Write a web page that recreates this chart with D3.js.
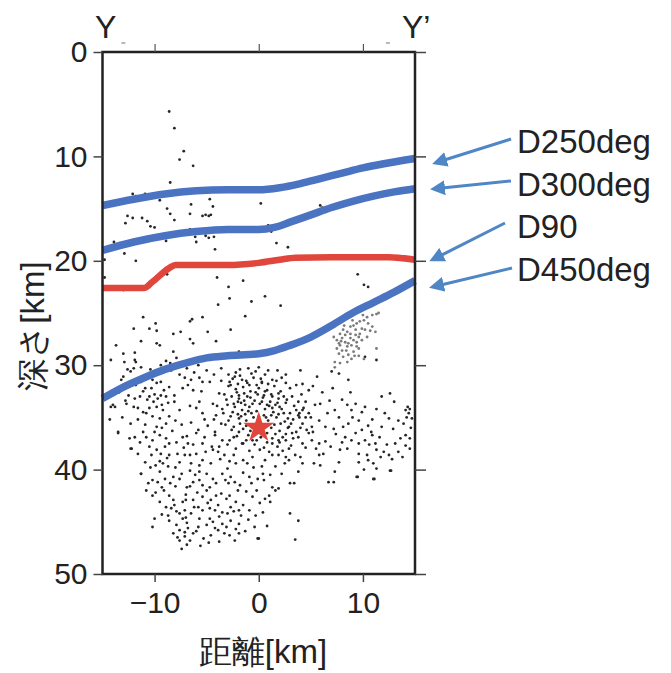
<!DOCTYPE html>
<html><head><meta charset="utf-8">
<script src="https://cdn.jsdelivr.net/npm/d3@7"></script>
<style>body{margin:0;background:#fff}svg{display:block}text{font-family:"Liberation Sans",Arial,sans-serif;fill:#222}</style>
</head><body>
<script>
const xTicks=[-10,0,10];
const yTicks=[0,10,20,30,40,50];
const lineD250=[[-15,14.7],[-12,14.1],[-9,13.6],[-6,13.3],[-3,13.2],[0,13.2],[2,13.0],[4,12.6],[6,12.1],[8,11.6],[10,11.1],[12,10.7],[15,10.2]];
const lineD300=[[-15,19.0],[-12,18.2],[-9,17.6],[-6,17.2],[-3,17.0],[0,17.0],[1.5,16.8],[3,16.3],[5,15.6],[7,14.9],[9,14.3],[11,13.8],[13,13.4],[15,13.1]];
const lineD90=[[-15,22.6],[-11,22.6],[-10.3,22.1],[-8.6,20.7],[-8,20.4],[-3,20.4],[0,20.2],[2,19.9],[3.5,19.7],[7,19.65],[12.5,19.65],[15,19.9]];
const lineD450=[[-15,33.2],[-13,32.1],[-11,31.2],[-9,30.4],[-7,29.8],[-5,29.3],[-3,29.1],[0,28.9],[1.5,28.6],[3,28.1],[5,27.3],[7,26.2],[9,25.0],[11,24.0],[13,23.0],[15,21.9]];
const labels=["D250deg","D300deg","D90","D450deg"];
const mainshock=[0,36];
const quakes=[
[-8.6,5.7],[-8.1,7.3],[-7.2,9.5],[-7.6,10.3],[-6.3,10.9],[-8.5,12.5],[-12.1,13.6],[-11.8,13.8],[-11.1,13.7],[-10.9,13.6],[-9.5,14.2],[-4.7,14.1],[-6.5,14.6],[-4.4,14.8],[-8.8,15.0],[-8.5,15.5],[-6.6,15.5],[-5.4,15.7],[-5.1,15.6],[-4.8,15.7],[-4.6,15.6],[-8.1,16.1],[-12.6,15.7],[-12.8,16.4],[-12.1,15.9],[-11.2,15.9],[-10.7,16.2],[-10.4,16.7],[-10.0,16.8],[0.2,14.5],[5.9,14.7],[6.1,14.9],
[-6.6,17.0],[-6.2,17.2],[-4.7,17.3],[-3.2,17.0],[-2.2,17.0],[-1.4,17.0],[0.9,16.6],[1.2,17.2],[-9.0,17.5],[-8.9,18.1],[-6.1,17.7],[-6.0,18.2],[-5.1,17.6],[-4.8,17.8],[-4.3,17.7],[-13.9,18.2],[-12.9,19.3],[-11.8,20.0],[-4.2,18.9],[1.7,18.3],[2.8,18.7],
[-6.2,20.5],[-0.9,20.3],[-8.8,21.3],[-13.0,22.8],[-14.8,19.9],[-14.8,21.6],[-4.0,21.6],[-2.9,22.5],[-1.5,21.9],[-2.8,23.6],[0.6,23.4],[9.5,21.3],[10.1,22.3],[10.5,22.5],
[-3.9,24.2],[-0.7,23.9],[-11.1,25.4],[-5.4,25.4],[-6.4,25.6],[-6.6,25.8],[-1.3,25.3],[-9.9,26.0],[-10.5,26.5],[-12.0,26.5],[-9.8,26.7],[-8.2,27.0],[-7.5,26.8],[-4.9,26.8],[-2.7,26.6],[-6.6,27.5],[-6.3,27.9],[-4.1,27.7],[-11.3,27.7],[-9.8,27.9],[-9.5,28.1],[-13.7,28.1],[-8.2,28.7],[-11.9,28.8],[-13.0,28.9],[-1.9,28.7],[-14.2,29.5],[-12.9,29.7],[-11.9,29.5],[-11.8,29.7],
[-9.4,30.0],[-8.5,29.8],[-8.1,30.1],[-7.6,30.0],[-7.1,29.7],[-8.4,30.5],[-9.0,30.6],[-10.0,30.9],[-10.8,31.2],[-11.3,31.6],[-11.8,31.9],[-12.3,30.6],[-12.6,30.4],[-13.2,31.4],[-13.0,31.1],[-10.6,31.0],[-11.6,31.3],[-12.1,31.8],
[-11.1,32.5],[-10.3,32.2],[-9.8,31.7],[-9.4,31.6],[-7.6,30.9],[-7.1,31.2],[-6.5,31.4],[-5.7,31.2],[-5.4,31.6],[-4.7,31.6],[-6.8,31.9],[-7.3,32.2],[-6.3,32.4],[-5.5,32.5],[-10.5,33.0],[-9.7,33.2],[-8.9,33.0],[-8.1,32.9],[-8.1,33.5],[-9.8,34.0],[-10.5,34.1],[-9.2,34.3],[-11.1,34.5],[-10.2,34.9],[-9.5,35.1],[-8.6,34.9],[-7.6,34.3],[-6.6,33.9],[-6.0,34.1],[-5.4,34.6],[-4.1,34.8],[-4.4,33.7],[-5.7,33.5],[-13.8,34.0],[-14.3,35.2],[-12.0,34.0],[-11.6,35.2],[-10.9,35.7],[-9.8,35.9],[-8.9,35.6],[-14.2,34.0],[-13.5,36.4],[-12.3,38.0],[-11.3,40.4],[-12.7,33.7],[-10.7,33.3],[-9.1,32.4],[-10.0,32.8],
[-2.5,31.3],[-1.8,31.0],[-1.2,31.5],[-0.5,31.2],[0.3,31.6],[-2.9,32.0],[-2.2,32.3],[-1.5,32.1],[-0.8,32.5],[0.0,32.2],[0.8,32.4],[1.5,32.0],[-3.3,32.8],[-2.6,33.0],[-1.9,33.2],[-1.1,33.0],[-0.4,33.4],[0.4,33.1],[1.1,33.5],[1.9,33.2],[2.6,33.6],[-3.0,33.8],[-2.3,34.0],[-1.6,34.3],[-0.9,34.0],[-0.2,34.4],[0.6,34.2],[1.4,34.5],[2.2,34.2],[3.0,34.6],[-2.7,34.9],[-1.9,35.1],[-1.2,35.3],[-0.5,35.0],[0.9,35.3],[1.7,35.0],[2.5,35.4],[3.3,35.2],[-3.2,35.7],[-2.4,35.9],[-1.5,36.1],[1.2,36.0],[2.0,36.3],[2.8,36.0],[3.6,36.4],[-2.1,36.8],[-1.0,36.7],[0.2,36.9],[1.3,37.0],[2.3,36.9],[-1.6,37.5],[-0.4,37.6],[0.8,37.4],[1.8,37.8],[-2.0,31.8],[-1.4,32.7],[-0.2,31.9],[0.5,32.9],[1.0,33.9],[-0.6,33.7],[-1.7,33.6],[-2.5,34.5],[2.9,35.9],[0.2,35.6],[-0.8,36.3],[0.5,34.8],[-1.3,34.7],[1.9,34.7],[2.4,33.0],[-3.5,34.2],[3.9,35.0],[4.2,35.6],[3.6,34.3],[4.5,35.0],[-0.3,30.6],[-1.0,30.3],[-2.2,30.7],[0.6,30.9],[-2.8,31.6],[-1.6,31.4],[-0.9,31.9],[-2.1,32.6],[-0.1,32.8],[-1.3,33.8],[-2.0,33.5],[-0.7,34.6],[0.1,33.7],[1.6,33.8],[-2.9,35.3],[-1.8,35.6],[0.4,36.3],[1.5,35.7],[-0.2,37.2],
[-6.5,35.5],[-5.8,36.2],[-4.9,35.8],[-4.2,36.4],[-3.6,35.6],[-6.9,36.8],[-5.2,35.2],[-4.5,37.8],[-3.9,38.3],
[-13.5,36.5],[-10.8,36.9],[-10.2,37.2],[-9.5,36.7],[-8.9,37.0],[-8.6,37.5],[-9.8,38.1],[-9.4,38.5],[-8.6,38.6],[-7.8,38.5],[-7.1,38.6],[-12.2,38.0],[-11.6,38.5],[-9.2,39.4],[-8.7,39.7],[-9.5,40.2],[-10.2,41.0],[-9.7,41.2],[-9.0,40.9],[-8.2,40.7],[-7.4,40.4],[-11.3,40.4],[-10.6,41.3],[-10.2,42.5],[-8.6,42.5],[-8.2,42.9],[-8.1,43.4],[-8.4,43.7],[-7.3,43.1],[-7.1,43.9],[-7.6,44.2],[-8.7,44.4],[-8.6,44.9],[-7.3,44.7],[-7.6,45.8],[-7.1,46.0],[-8.2,46.1],[-7.8,46.5],[-7.6,46.8],[-7.4,47.6],[-10.0,44.7],[-10.2,45.5],
[-6.5,39.4],[-6.6,40.1],[-6.3,41.2],[-6.9,41.7],[-5.7,39.6],[-5.4,39.1],[-5.0,40.4],[-5.7,41.0],[-5.4,41.5],[-5.0,42.0],[-4.7,41.7],[-5.4,42.6],[-4.6,42.9],[-4.1,42.5],[-3.9,43.4],[-4.7,43.7],[-5.4,43.9],[-6.3,42.9],[-5.8,43.6],[-6.5,44.2],[-5.7,44.7],[-5.0,45.3],[-5.8,45.5],[-6.3,46.1],[-6.6,46.8],
[-4.7,44.7],[-4.4,45.0],[-3.8,44.5],[-3.1,45.5],[-3.9,45.8],[-3.3,46.1],[-2.7,44.9],[-2.2,45.7],[-1.9,46.1],[-2.3,46.8],[-3.8,46.9],[-1.9,45.2],[-1.7,44.4],
[-4.4,38.1],[-3.8,37.8],[-3.3,38.6],[-2.8,39.2],[-2.2,39.4],[-1.5,39.1],[-1.1,39.4],[-0.6,38.8],[0.1,38.1],[-3.5,40.4],[-2.7,40.7],[-2.3,41.2],[-1.8,41.5],[-2.9,41.3],[-0.9,40.7],[-0.1,40.9],[-1.2,42.1],[-0.6,42.6],[0.1,43.2],[-0.9,43.9],[-3.6,42.3],[-2.8,42.5],[-2.2,43.1],[-2.7,43.6],[-3.5,44.1],[-1.9,43.9],[-0.3,44.4],[-0.4,45.5],[-0.1,46.6],
[-6.0,36.5],[-5.2,36.9],[-4.2,36.7],[-3.5,37.2],[-2.4,36.9],[-1.5,37.5],[-0.6,37.2],[-5.4,37.5],[-7.3,36.9],[-11.1,36.4],[-6.8,37.5],[-6.6,38.6],[-7.6,39.3],[-6.0,38.5],[-9.9,39.6],[-8.0,41.6],[-9.1,42.0],[-7.0,42.4],[-6.1,40.5],[-4.4,40.9],[-3.0,39.9],[-7.9,45.3],[-6.9,45.1],[-4.6,46.3],
[1.3,37.5],[1.9,37.2],[2.6,37.2],[3.2,36.5],[3.8,36.9],[4.8,36.5],[5.1,37.2],[5.8,37.5],[6.4,37.3],[4.2,37.5],[3.5,38.6],[4.0,38.8],[4.2,39.4],[3.8,40.2],[2.9,39.1],[2.6,38.8],[1.9,38.6],[1.3,38.6],[0.6,39.1],[0.3,39.7],[1.6,39.7],[2.2,40.4],[3.0,41.3],[3.4,41.3],[1.3,41.7],[1.6,42.0],[1.9,41.8],[1.0,42.5],[1.1,43.1],[0.5,41.0],[0.4,44.1],[3.0,44.2],[3.8,44.9],[0.8,45.4],[3.5,46.7],[0.0,46.6],
[5.8,38.6],[5.3,39.4],[5.9,39.6],[7.7,39.3],[7.3,40.2],[6.7,41.2],[7.8,38.1],[8.5,38.0],[8.3,36.9],[9.3,36.5],[9.6,37.5],[10.2,37.2],[10.9,36.7],[11.2,37.5],[11.3,38.1],[11.7,38.8],[12.0,38.3],[12.5,38.6],[13.1,37.5],[13.4,38.3],[14.1,37.7],[14.5,38.0],[14.1,36.7],[9.6,38.5],[10.4,38.6],[10.5,39.1],[11.0,39.4],[11.3,39.9],[9.6,39.3],[10.1,40.0],[9.4,40.7],[11.0,40.9],[12.6,40.1],[9.5,40.7],[11.1,40.9],[7.2,41.2],[12.7,40.1],
[2.1,24.3],[4.0,30.5],[7.0,30.6],[7.7,30.8],[8.6,31.4],[5.6,31.1],[4.2,31.8],[2.6,31.7],[1.3,31.4],[0.3,31.7],[0.6,32.5],[1.3,33.0],[1.9,32.7],[2.7,33.3],[3.2,33.0],[3.8,33.5],[4.8,32.4],[4.5,33.5],[5.4,33.8],[5.9,33.7],[4.2,34.3],[5.0,35.0],[5.8,35.3],[3.8,34.8],[8.0,33.3],[8.5,33.8],[8.9,34.3],[9.3,33.7],[9.9,34.5],[7.3,34.3],[7.7,35.0],[11.8,33.0],[12.6,32.7],[11.3,34.2],[12.1,34.6],[11.8,35.9],[14.1,34.3],[14.4,34.6],[14.2,35.0],[14.5,34.2],[14.7,35.1],[14.3,34.0],[13.4,35.3],[9.6,35.3],[10.5,35.8],[8.6,35.6],[7.2,36.1],[8.1,35.9],[6.4,35.9],[5.1,35.9],[11.3,29.5],[10.2,29.2],[2.2,31.2],[3.0,32.2],[2.0,34.0],[4.6,36.2],[6.6,34.6],[10.8,36.4],[12.9,36.1],[13.6,37.0]
];
const quakesMore=[
[-2.7,31.9],[-2.3,31.1],[-1.9,32.9],[-1.1,31.7],[-0.3,32.6],[0.2,31.3],[0.9,31.8],[1.2,32.8],[1.8,33.6],[2.1,32.5],[-3.1,33.3],[-2.4,33.7],[-1.4,33.4],[-0.8,33.1],[0.3,33.5],[0.8,33.8],[1.3,34.1],[2.4,34.6],[2.8,35.1],[-3.4,34.6],[-2.0,34.7],[-1.0,34.4],[0.0,34.9],[0.7,35.0],[1.2,34.8],[2.1,35.6],[3.1,35.6],[-2.6,36.2],[-1.9,36.4],[-1.2,35.8],[0.8,36.5],[1.6,36.6],[2.6,36.6],[3.3,37.0],[-2.8,37.2],[-1.2,37.2],[0.5,37.9],[1.0,38.3],[2.0,37.4],[2.9,38.0],[-0.9,38.2],[-2.2,38.0],[-1.8,30.4],[-0.7,30.8],[0.9,30.5],[-2.9,30.9],[-3.6,31.5],[-3.8,32.7],[-4.0,33.9],[-4.3,35.2],[3.4,33.9],[3.9,34.6],[4.3,34.1],[4.8,34.6],[5.2,36.4],[4.0,36.0],[-0.4,35.9],[-1.7,34.9],[1.7,31.5],[0.0,30.2],
[-12.5,32.9],[-11.9,33.2],[-11.4,33.0],[-10.9,32.2],[-10.2,31.4],[-9.4,32.9],[-8.6,32.1],[-8.7,33.6],[-9.3,33.8],[-10.1,33.5],[-10.8,34.6],[-11.6,34.1],[-12.3,35.6],[-11.9,36.9],[-11.4,37.4],[-10.5,37.8],[-10.0,36.4],[-9.3,36.0],[-8.3,36.3],[-8.0,35.3],[-7.4,35.7],[-7.9,37.4],[-9.0,37.8],[-10.3,38.6],[-10.9,39.3],[-10.4,39.8],[-9.5,39.2],[-8.8,38.9],[-8.0,39.8],[-7.6,40.9],[-8.5,41.3],[-9.3,41.7],[-10.8,42.0],[-9.9,42.2],[-9.5,43.1],[-8.9,43.6],[-9.3,44.3],[-7.9,44.0],[-7.0,42.9],[-6.2,43.6],[-12.8,33.4],[-13.4,32.6],[-14.0,33.8],[-13.1,35.0],[-12.4,37.0],
[-7.0,44.6],[-6.8,45.6],[-6.0,45.9],[-5.3,46.6],[-4.8,47.0],[-5.6,47.3],[-6.9,47.2],[-7.1,46.4],[-4.2,45.6],[-3.5,45.2],[-2.8,46.3],[-3.0,44.2],[-2.4,44.0],[-1.5,43.4],[-1.0,44.8],[-1.3,45.9],[-2.0,42.0],[-3.1,42.8],[-4.2,43.9],[-4.9,43.2],[-5.9,42.2],[-6.6,41.6],[-4.1,41.3],[-3.2,41.0],[-1.5,40.3],[-0.5,39.8],[0.4,40.4],[-0.2,42.0],[0.6,42.8],[-0.7,41.3],[-5.7,40.2],[-4.6,39.4],[-3.7,39.0],[-2.4,38.6],[-5.1,38.3],[-6.3,37.6],[-7.2,37.9],[-3.0,37.6],
[4.5,37.9],[5.5,38.0],[6.2,38.5],[6.9,37.8],[7.4,36.6],[8.0,37.4],[8.9,37.2],[9.9,36.2],[10.6,37.6],[11.6,36.9],[12.3,37.6],[12.8,39.0],[13.8,38.8],[14.5,37.0],[14.6,36.0],[13.9,35.6],[12.5,35.1],[10.9,35.2],[10.2,34.0],[9.0,35.0],[6.8,33.4],[6.1,32.6],[5.2,32.0],[3.6,31.9],[4.1,32.8],[2.6,30.9],[1.8,30.5],[8.8,32.6],[7.1,32.2],[13.0,33.5],[2.3,38.2],[3.1,37.7],[2.5,39.4],[1.1,40.5],
[-12.0,30.3],[-11.3,30.2],[-10.4,30.4],[-9.7,30.5],[-8.9,29.6],[-7.9,29.3],[-6.9,30.3],[-6.2,30.7],[-5.8,30.0],[-5.0,30.5],[-4.3,30.9],[-3.6,30.3],[-13.6,32.5],[-14.4,32.9]
];
const quakesCluster=[[7.2,27.3],[7.5,27.6],[7.8,27.0],[8.1,26.6],[8.5,26.8],[8.8,26.3],[9.1,26.2],[9.4,26.0],[9.7,25.8],[10.1,25.7],[10.4,25.4],[10.9,25.2],[11.3,25.1],[10.5,26.0],[10.9,26.3],[11.2,26.8],[10.2,26.6],[9.7,27.0],[9.3,27.1],[8.8,27.4],[8.3,27.8],[7.8,28.1],[7.5,28.4],[8.0,28.6],[8.5,28.2],[8.9,28.1],[9.4,27.8],[9.9,27.6],[10.4,27.3],[9.6,28.4],[9.1,28.7],[8.6,29.0],[8.1,29.2],[7.7,28.9],[7.3,29.7],[8.5,29.7],[8.9,29.4],[9.6,29.1],[10.1,29.4],[11.3,28.4],[8.3,27.1],[8.8,27.0],[9.3,26.6],[8.0,27.4],[7.7,27.9],[8.6,27.9],[9.1,27.6],[9.6,27.3],[9.9,26.5],[7.3,30.2],[7.8,29.8],[11.5,25.0],[8.2,26.2],[9.0,25.7],[10.0,25.2],[8.4,28.6],[9.2,29.1],[7.9,27.7],[10.7,26.7],[9.4,28.2]];

const W=671,H=673;
const svg=d3.select("body").append("svg").attr("width",W).attr("height",H);
const x=d3.scaleLinear().domain([-15,15]).range([102.5,415]);
const y=d3.scaleLinear().domain([0,50]).range([52,574]);
const ink="#222";

// quakes
svg.append("g").selectAll("circle").data(quakes.concat(quakesMore)).join("circle")
  .attr("cx",d=>x(d[0])).attr("cy",d=>y(d[1])).attr("r",1.4).attr("fill","#262626");
svg.append("g").selectAll("circle").data(quakesCluster).join("circle")
  .attr("cx",d=>x(d[0])).attr("cy",d=>y(d[1])).attr("r",1.4).attr("fill","#7a7a7a");

// lines
const lg=d3.line().x(d=>x(d[0])).y(d=>y(d[1])).curve(d3.curveMonotoneX);
const blue="#4a73c2", red="#e0463c";
[[lineD250,blue],[lineD300,blue],[lineD90,red],[lineD450,blue]].forEach(([data,c])=>{
  svg.append("path").attr("d",lg(data)).attr("fill","none").attr("stroke",c).attr("stroke-width",c===blue?7.5:6.5).attr("stroke-linejoin","round");
});

// star
svg.append("path").attr("d",d3.symbol(d3.symbolStar,300)()).attr("transform",`translate(${x(mainshock[0])},${y(mainshock[1])})`).attr("fill","#e0463c");

// frame
svg.append("rect").attr("x",x(-15)).attr("y",y(0)).attr("width",x(15)-x(-15)).attr("height",y(50)-y(0)).attr("fill","none").attr("stroke",ink).attr("stroke-width",2.5);

// axes
const fs=30;
const axL=d3.axisLeft(y).tickValues(yTicks).tickSize(9).tickPadding(6);
const gl=svg.append("g").attr("transform",`translate(${x(-15)},0)`).call(axL);
const axR=d3.axisRight(y).tickValues(yTicks).tickSize(11).tickFormat("");
const gr=svg.append("g").attr("transform",`translate(${x(15)},0)`).call(axR);
const axB=d3.axisBottom(x).tickValues(xTicks).tickSize(8).tickPadding(10);
const gb=svg.append("g").attr("transform",`translate(0,${y(50)})`).call(axB);
const axT=d3.axisTop(x).tickValues(xTicks).tickSize(8).tickFormat("");
const gt=svg.append("g").attr("transform",`translate(0,${y(0)})`).call(axT);
[gl,gr,gb,gt].forEach(g=>{
  g.select(".domain").remove();
  g.selectAll(".tick line").attr("stroke","#444").attr("stroke-width",1.5);
  g.selectAll("text").attr("font-size",fs).attr("font-family","Liberation Sans, Arial, sans-serif").attr("fill",ink);
});
gt.selectAll(".tick line").attr("stroke","#555").attr("stroke-width",1.2);
[-13,12.4].forEach(v=>svg.append("line").attr("x1",x(v)-2).attr("x2",x(v)+2).attr("y1",43).attr("y2",43).attr("stroke","#888").attr("stroke-width",1.2));

// top labels
svg.append("text").attr("x",95).attr("y",38).attr("font-size",32).text("Y");
svg.append("text").attr("x",402).attr("y",38).attr("font-size",32).text("Y’");

// axis titles
svg.append("text").attr("x",263).attr("y",663).attr("text-anchor","middle").attr("font-size",33).attr("font-family","Noto Sans CJK JP, sans-serif").attr("fill","#333").text("距離[km]");
svg.append("text").attr("transform","translate(44,326) rotate(-90)").attr("text-anchor","middle").attr("font-size",33).attr("font-family","Noto Sans CJK JP, sans-serif").attr("fill","#333").text("深さ[km]");

// annotations
const arrows=[[511,139,435,163],[511,181,433,189],[505,223,432,260],[512,268,432,287]];
const labelY=[153,196,238,281];
const ac="#4f86c6";
svg.append("defs").append("marker").attr("id","ah").attr("viewBox","0 0 10 10").attr("refX",2).attr("refY",5)
  .attr("markerWidth",5).attr("markerHeight",5).attr("orient","auto-start-reverse")
  .append("path").attr("d","M0,0 L10,5 L0,10 z").attr("fill",ac);
arrows.forEach((a,i)=>{
  const dx=a[2]-a[0],dy=a[3]-a[1],L=Math.hypot(dx,dy);
  svg.append("line").attr("x1",a[0]).attr("y1",a[1]).attr("x2",a[2]+dx/L*-9).attr("y2",a[3]+dy/L*-9)
    .attr("stroke",ac).attr("stroke-width",3).attr("marker-end","url(#ah)");
  svg.append("text").attr("x",517).attr("y",labelY[i]).attr("font-size",33).text(labels[i]);
});
</script>
</body></html>
